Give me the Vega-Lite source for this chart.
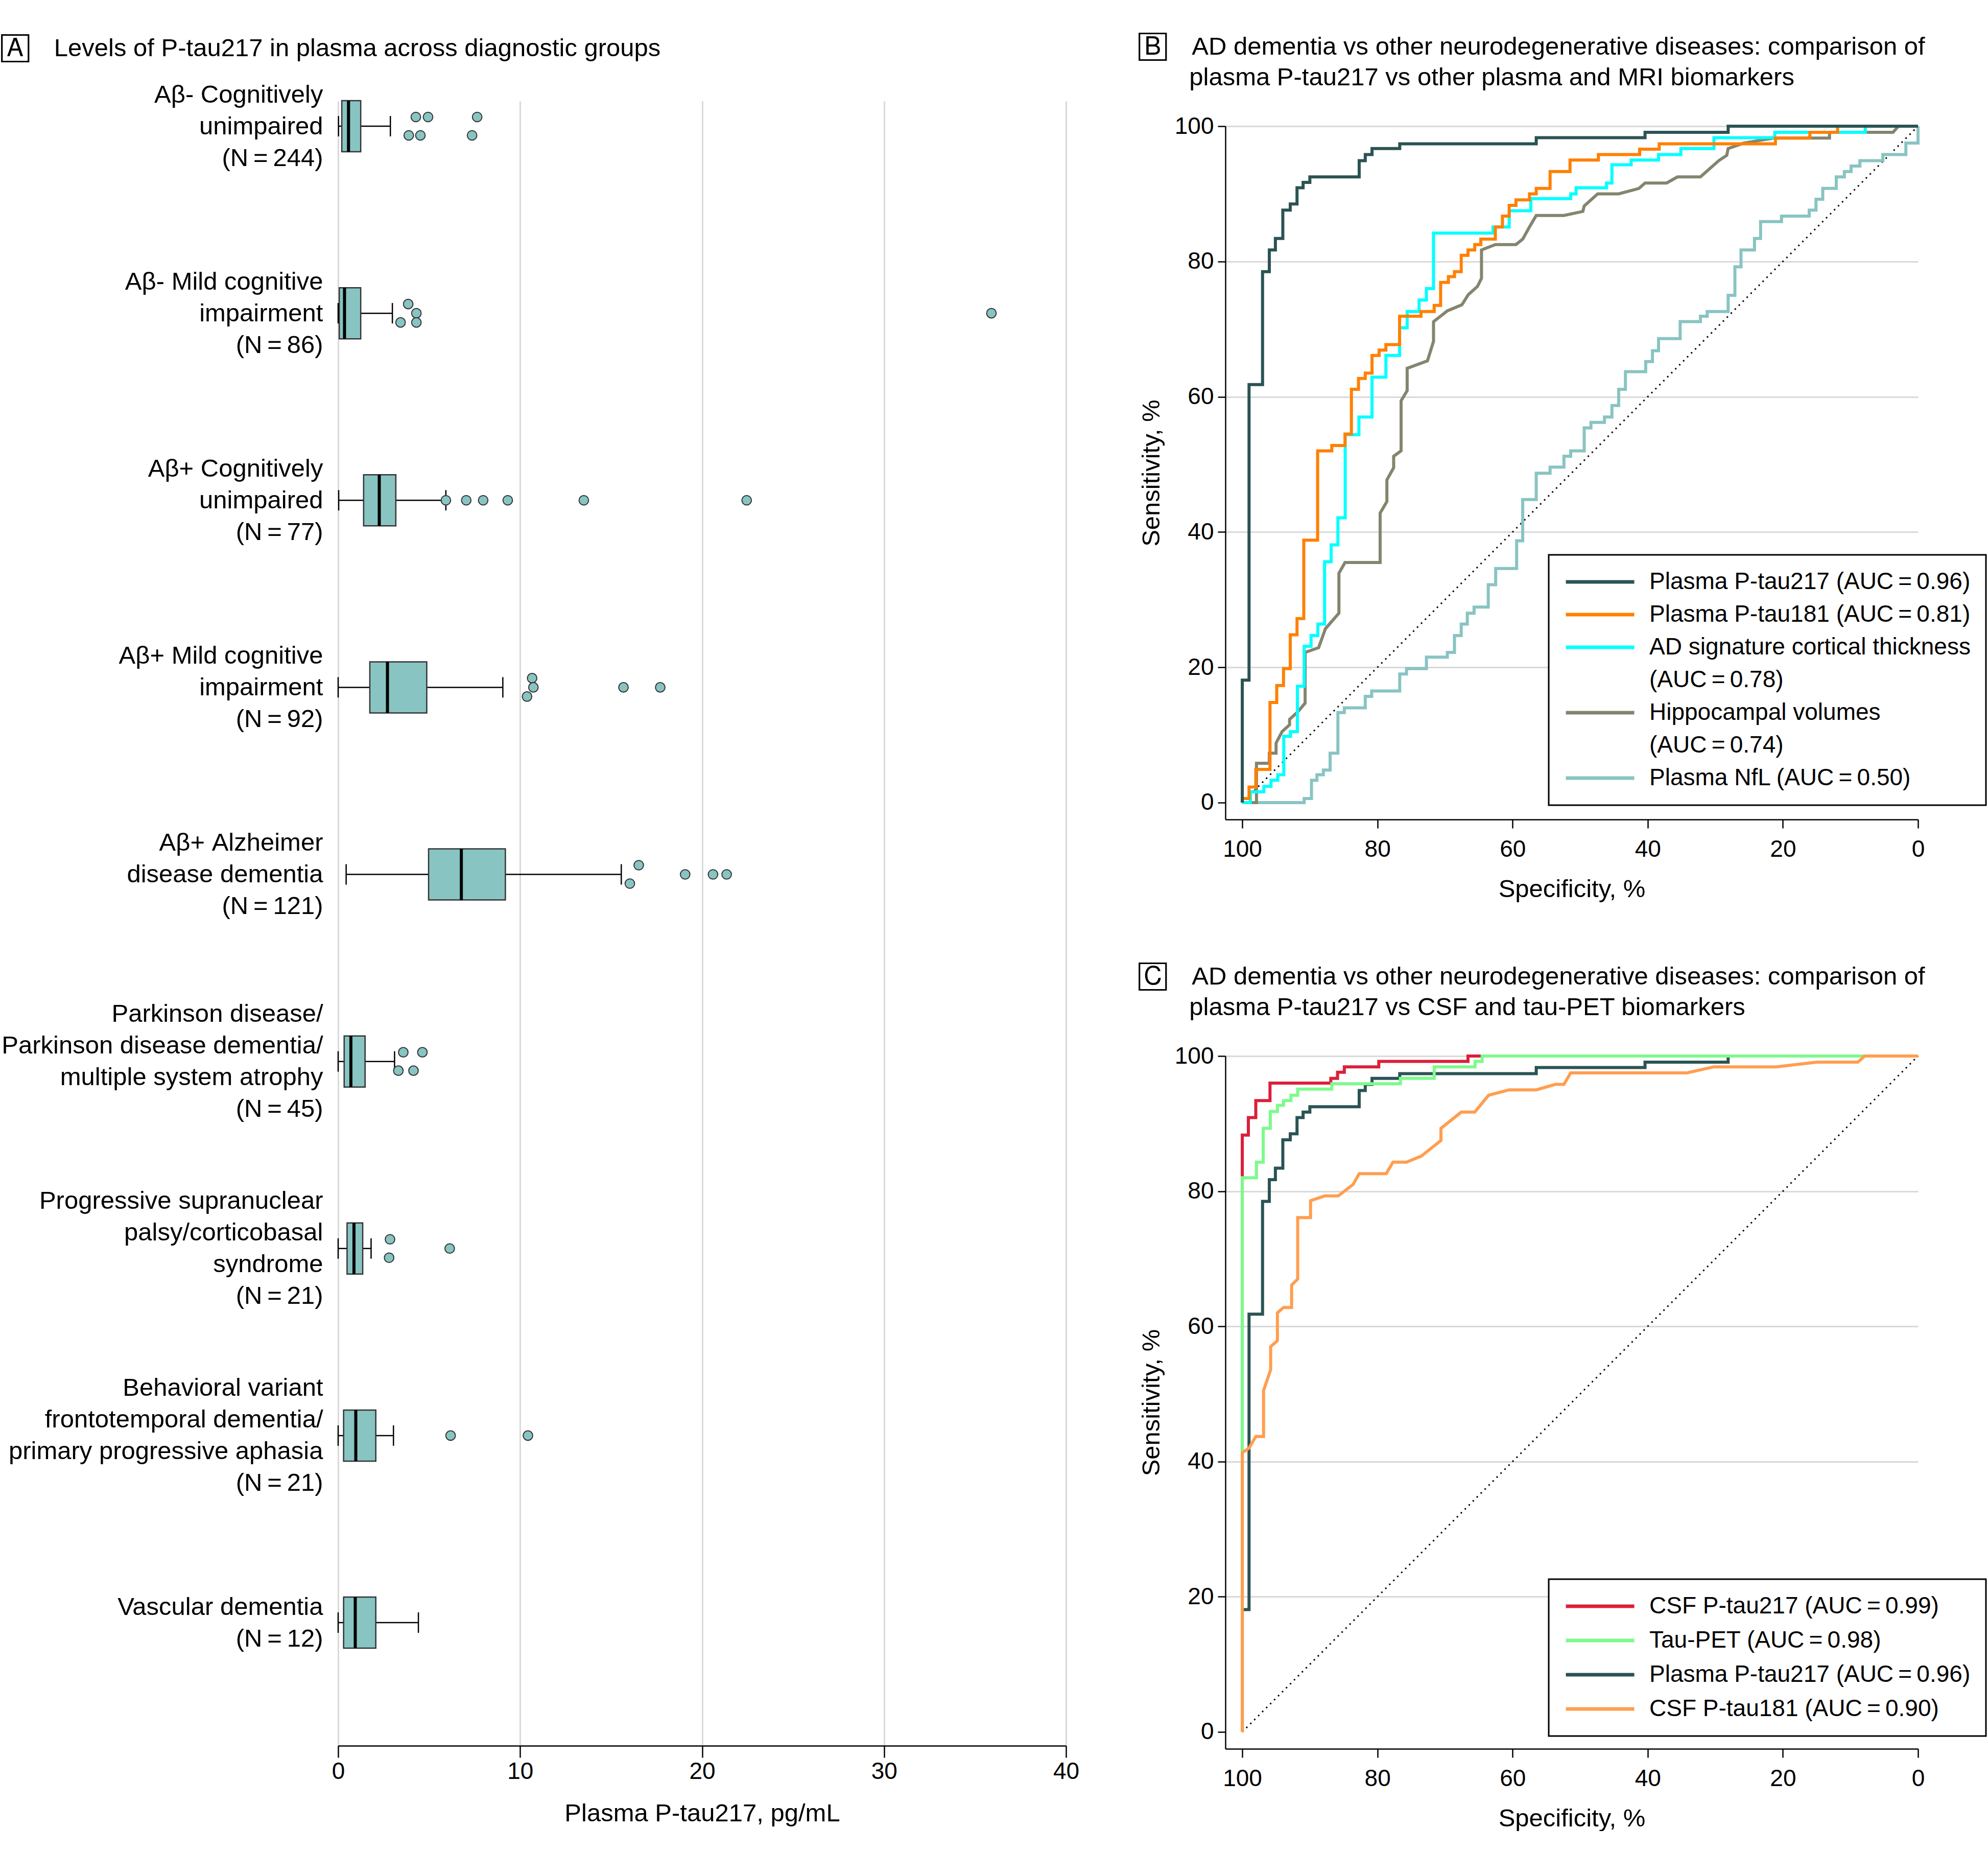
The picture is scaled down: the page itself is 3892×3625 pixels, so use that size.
{
"$schema": "https://vega.github.io/schema/vega-lite/v6.json",
"background": "white",
"padding": {"left": 2, "top": 68, "right": 0, "bottom": 0},
"config": {
 "font": "Liberation Sans",
 "view": {"stroke": null},
 "style": {"guide-label": {"lineHeight": 64}},
 "axis": {"labelFont": "Liberation Sans", "titleFont": "Liberation Sans", "labelFontSize": 46, "titleFontSize": 49, "titleFontWeight": "normal", "labelColor": "black", "titleColor": "black", "domainColor": "black", "tickColor": "black", "domainWidth": 2.5, "tickWidth": 2.5, "gridColor": "#d9d9d9", "gridWidth": 3, "labelFlush": false, "labelOverlap": false},
 "title": {"font": "Liberation Sans", "fontSize": 49, "fontWeight": "normal", "anchor": "start", "frame": "bounds", "color": "black", "lineHeight": 60},
 "legend": {"labelFont": "Liberation Sans", "labelFontSize": 46, "labelColor": "black", "labelLimit": 2000, "symbolType": "M-1.45,0H8.55", "symbolSize": 718, "symbolStrokeWidth": 7, "labelOffset": 121, "padding": 30, "strokeColor": "black", "strokeWidth": 3, "fillColor": "white", "cornerRadius": 0, "rowPadding": 18}
},
"datasets": {
 "box": [
  {"g": "Aβ- Cognitively|unimpaired|(N\u2009=\u2009244)", "lw": 0.02, "q1": 0.2, "md": 0.57, "q3": 1.24, "uw": 2.87},
  {"g": "Aβ- Mild cognitive|impairment|(N\u2009=\u200986)", "lw": 0, "q1": 0.06, "md": 0.35, "q3": 1.24, "uw": 2.98},
  {"g": "Aβ+ Cognitively|unimpaired|(N\u2009=\u200977)", "lw": 0.03, "q1": 1.4, "md": 2.26, "q3": 3.17, "uw": 5.92},
  {"g": "Aβ+ Mild cognitive|impairment|(N\u2009=\u200992)", "lw": 0, "q1": 1.74, "md": 2.71, "q3": 4.87, "uw": 9.05},
  {"g": "Aβ+ Alzheimer|disease dementia|(N\u2009=\u2009121)", "lw": 0.44, "q1": 4.97, "md": 6.77, "q3": 9.19, "uw": 15.56},
  {"g": "Parkinson disease/|Parkinson disease dementia/|multiple system atrophy|(N\u2009=\u200945)", "lw": 0, "q1": 0.33, "md": 0.7, "q3": 1.48, "uw": 3.1},
  {"g": "Progressive supranuclear|palsy/corticobasal|syndrome|(N\u2009=\u200921)", "lw": 0, "q1": 0.49, "md": 0.87, "q3": 1.35, "uw": 1.81},
  {"g": "Behavioral variant|frontotemporal dementia/|primary progressive aphasia|(N\u2009=\u200921)", "lw": 0, "q1": 0.3, "md": 0.97, "q3": 2.07, "uw": 3.04},
  {"g": "Vascular dementia|(N\u2009=\u200912)", "lw": 0, "q1": 0.3, "md": 0.94, "q3": 2.07, "uw": 4.41}
 ],
 "out": [
  {"g": "Aβ- Cognitively|unimpaired|(N\u2009=\u2009244)", "v": 4.27, "l": "t"},
  {"g": "Aβ- Cognitively|unimpaired|(N\u2009=\u2009244)", "v": 4.94, "l": "t"},
  {"g": "Aβ- Cognitively|unimpaired|(N\u2009=\u2009244)", "v": 7.64, "l": "t"},
  {"g": "Aβ- Cognitively|unimpaired|(N\u2009=\u2009244)", "v": 3.88, "l": "b"},
  {"g": "Aβ- Cognitively|unimpaired|(N\u2009=\u2009244)", "v": 4.52, "l": "b"},
  {"g": "Aβ- Cognitively|unimpaired|(N\u2009=\u2009244)", "v": 7.36, "l": "b"},
  {"g": "Aβ- Mild cognitive|impairment|(N\u2009=\u200986)", "v": 3.85, "l": "t"},
  {"g": "Aβ- Mild cognitive|impairment|(N\u2009=\u200986)", "v": 4.3, "l": "m"},
  {"g": "Aβ- Mild cognitive|impairment|(N\u2009=\u200986)", "v": 3.43, "l": "b"},
  {"g": "Aβ- Mild cognitive|impairment|(N\u2009=\u200986)", "v": 4.3, "l": "b"},
  {"g": "Aβ- Mild cognitive|impairment|(N\u2009=\u200986)", "v": 35.9, "l": "m"},
  {"g": "Aβ+ Cognitively|unimpaired|(N\u2009=\u200977)", "v": 5.92, "l": "m"},
  {"g": "Aβ+ Cognitively|unimpaired|(N\u2009=\u200977)", "v": 7.04, "l": "m"},
  {"g": "Aβ+ Cognitively|unimpaired|(N\u2009=\u200977)", "v": 7.97, "l": "m"},
  {"g": "Aβ+ Cognitively|unimpaired|(N\u2009=\u200977)", "v": 9.32, "l": "m"},
  {"g": "Aβ+ Cognitively|unimpaired|(N\u2009=\u200977)", "v": 13.5, "l": "m"},
  {"g": "Aβ+ Cognitively|unimpaired|(N\u2009=\u200977)", "v": 22.45, "l": "m"},
  {"g": "Aβ+ Mild cognitive|impairment|(N\u2009=\u200992)", "v": 10.66, "l": "t"},
  {"g": "Aβ+ Mild cognitive|impairment|(N\u2009=\u200992)", "v": 10.73, "l": "m"},
  {"g": "Aβ+ Mild cognitive|impairment|(N\u2009=\u200992)", "v": 10.38, "l": "b"},
  {"g": "Aβ+ Mild cognitive|impairment|(N\u2009=\u200992)", "v": 15.68, "l": "m"},
  {"g": "Aβ+ Mild cognitive|impairment|(N\u2009=\u200992)", "v": 17.7, "l": "m"},
  {"g": "Aβ+ Alzheimer|disease dementia|(N\u2009=\u2009121)", "v": 16.52, "l": "t"},
  {"g": "Aβ+ Alzheimer|disease dementia|(N\u2009=\u2009121)", "v": 16.03, "l": "b"},
  {"g": "Aβ+ Alzheimer|disease dementia|(N\u2009=\u2009121)", "v": 19.07, "l": "m"},
  {"g": "Aβ+ Alzheimer|disease dementia|(N\u2009=\u2009121)", "v": 20.6, "l": "m"},
  {"g": "Aβ+ Alzheimer|disease dementia|(N\u2009=\u2009121)", "v": 21.35, "l": "m"},
  {"g": "Parkinson disease/|Parkinson disease dementia/|multiple system atrophy|(N\u2009=\u200945)", "v": 3.58, "l": "t"},
  {"g": "Parkinson disease/|Parkinson disease dementia/|multiple system atrophy|(N\u2009=\u200945)", "v": 4.63, "l": "t"},
  {"g": "Parkinson disease/|Parkinson disease dementia/|multiple system atrophy|(N\u2009=\u200945)", "v": 3.31, "l": "b"},
  {"g": "Parkinson disease/|Parkinson disease dementia/|multiple system atrophy|(N\u2009=\u200945)", "v": 4.14, "l": "b"},
  {"g": "Progressive supranuclear|palsy/corticobasal|syndrome|(N\u2009=\u200921)", "v": 2.85, "l": "t"},
  {"g": "Progressive supranuclear|palsy/corticobasal|syndrome|(N\u2009=\u200921)", "v": 2.8, "l": "b"},
  {"g": "Progressive supranuclear|palsy/corticobasal|syndrome|(N\u2009=\u200921)", "v": 6.13, "l": "m"},
  {"g": "Behavioral variant|frontotemporal dementia/|primary progressive aphasia|(N\u2009=\u200921)", "v": 6.18, "l": "m"},
  {"g": "Behavioral variant|frontotemporal dementia/|primary progressive aphasia|(N\u2009=\u200921)", "v": 10.43, "l": "m"}
 ],
 "namesB": [
  {"k": "p217", "name": "Plasma P-tau217 (AUC\u2009=\u20090.96)"},
  {"k": "p181", "name": "Plasma P-tau181 (AUC\u2009=\u20090.81)"},
  {"k": "ct", "name": "AD signature cortical thickness|(AUC\u2009=\u20090.78)"},
  {"k": "hv", "name": "Hippocampal volumes|(AUC\u2009=\u20090.74)"},
  {"k": "nfl", "name": "Plasma NfL (AUC\u2009=\u20090.50)"}
 ],
 "namesC": [
  {"k": "c217", "name": "CSF P-tau217 (AUC\u2009=\u20090.99)"},
  {"k": "tau", "name": "Tau-PET (AUC\u2009=\u20090.98)"},
  {"k": "p217", "name": "Plasma P-tau217 (AUC\u2009=\u20090.96)"},
  {"k": "c181", "name": "CSF P-tau181 (AUC\u2009=\u20090.90)"}
 ],
 "diag": [{"sp": 100, "se": 0}, {"sp": 0, "se": 100}],
 "rocB": [
  {"k":"nfl","sp":100,"se":0},{"k":"nfl","sp":90.84,"se":0},{"k":"nfl","sp":90.84,"se":0.6},{"k":"nfl","sp":89.76,"se":0.6},{"k":"nfl","sp":89.76,"se":3.3},{"k":"nfl","sp":88.95,"se":3.3},{"k":"nfl","sp":88.95,"se":4.1},{"k":"nfl","sp":88.0,"se":4.1},{"k":"nfl","sp":88.0,"se":4.8},{"k":"nfl","sp":87.0,"se":4.8},{"k":"nfl","sp":87.0,"se":7.3},{"k":"nfl","sp":85.85,"se":7.3},{"k":"nfl","sp":85.85,"se":13.3},{"k":"nfl","sp":84.9,"se":13.3},{"k":"nfl","sp":84.9,"se":14.0},{"k":"nfl","sp":81.8,"se":14.0},{"k":"nfl","sp":81.8,"se":15.7},{"k":"nfl","sp":80.85,"se":15.7},{"k":"nfl","sp":80.85,"se":16.5},{"k":"nfl","sp":76.7,"se":16.5},{"k":"nfl","sp":76.7,"se":19.0},{"k":"nfl","sp":75.7,"se":19.0},{"k":"nfl","sp":75.7,"se":19.8},{"k":"nfl","sp":72.75,"se":19.8},{"k":"nfl","sp":72.75,"se":21.5},{"k":"nfl","sp":69.65,"se":21.5},{"k":"nfl","sp":69.65,"se":22.2},{"k":"nfl","sp":68.6,"se":22.2},{"k":"nfl","sp":68.6,"se":24.7},{"k":"nfl","sp":67.6,"se":24.7},{"k":"nfl","sp":67.6,"se":26.4},{"k":"nfl","sp":66.7,"se":26.4},{"k":"nfl","sp":66.7,"se":28.0},{"k":"nfl","sp":65.7,"se":28.0},{"k":"nfl","sp":65.7,"se":28.9},{"k":"nfl","sp":63.6,"se":28.9},{"k":"nfl","sp":63.6,"se":32.2},{"k":"nfl","sp":62.5,"se":32.2},{"k":"nfl","sp":62.5,"se":34.6},{"k":"nfl","sp":59.4,"se":34.6},{"k":"nfl","sp":59.4,"se":38.7},{"k":"nfl","sp":58.5,"se":38.7},{"k":"nfl","sp":58.5,"se":44.8},{"k":"nfl","sp":56.5,"se":44.8},{"k":"nfl","sp":56.5,"se":48.7},{"k":"nfl","sp":54.45,"se":48.7},{"k":"nfl","sp":54.45,"se":49.6},{"k":"nfl","sp":52.4,"se":49.6},{"k":"nfl","sp":52.4,"se":51.2},{"k":"nfl","sp":51.4,"se":51.2},{"k":"nfl","sp":51.4,"se":52.0},{"k":"nfl","sp":49.4,"se":52.0},{"k":"nfl","sp":49.4,"se":55.4},{"k":"nfl","sp":48.4,"se":55.4},{"k":"nfl","sp":48.4,"se":56.2},{"k":"nfl","sp":46.4,"se":56.2},{"k":"nfl","sp":46.4,"se":57.0},{"k":"nfl","sp":45.3,"se":57.0},{"k":"nfl","sp":45.3,"se":58.7},{"k":"nfl","sp":44.3,"se":58.7},{"k":"nfl","sp":44.3,"se":61.1},{"k":"nfl","sp":43.3,"se":61.1},{"k":"nfl","sp":43.3,"se":63.7},{"k":"nfl","sp":40.3,"se":63.7},{"k":"nfl","sp":40.3,"se":65.2},{"k":"nfl","sp":39.3,"se":65.2},{"k":"nfl","sp":39.3,"se":66.8},{"k":"nfl","sp":38.4,"se":66.8},{"k":"nfl","sp":38.4,"se":68.6},{"k":"nfl","sp":35.2,"se":68.6},{"k":"nfl","sp":35.2,"se":71.1},{"k":"nfl","sp":32.2,"se":71.1},{"k":"nfl","sp":32.2,"se":71.9},{"k":"nfl","sp":31.2,"se":71.9},{"k":"nfl","sp":31.2,"se":72.6},{"k":"nfl","sp":28.1,"se":72.6},{"k":"nfl","sp":28.1,"se":75.0},{"k":"nfl","sp":27.1,"se":75.0},{"k":"nfl","sp":27.1,"se":79.2},{"k":"nfl","sp":26.2,"se":79.2},{"k":"nfl","sp":26.2,"se":81.7},{"k":"nfl","sp":24.2,"se":81.7},{"k":"nfl","sp":24.2,"se":83.4},{"k":"nfl","sp":23.3,"se":83.4},{"k":"nfl","sp":23.3,"se":85.9},{"k":"nfl","sp":20.2,"se":85.9},{"k":"nfl","sp":20.2,"se":86.7},{"k":"nfl","sp":16.1,"se":86.7},{"k":"nfl","sp":16.1,"se":87.6},{"k":"nfl","sp":15.1,"se":87.6},{"k":"nfl","sp":15.1,"se":89.2},{"k":"nfl","sp":14.1,"se":89.2},{"k":"nfl","sp":14.1,"se":90.8},{"k":"nfl","sp":12.1,"se":90.8},{"k":"nfl","sp":12.1,"se":92.5},{"k":"nfl","sp":10.9,"se":92.5},{"k":"nfl","sp":10.9,"se":93.3},{"k":"nfl","sp":9.9,"se":93.3},{"k":"nfl","sp":9.9,"se":94.1},{"k":"nfl","sp":8.6,"se":94.1},{"k":"nfl","sp":8.6,"se":94.9},{"k":"nfl","sp":5.2,"se":94.9},{"k":"nfl","sp":5.2,"se":95.8},{"k":"nfl","sp":1.8,"se":95.8},{"k":"nfl","sp":1.8,"se":97.5},{"k":"nfl","sp":0,"se":97.5},{"k":"nfl","sp":0,"se":100},
  {"k":"hv","sp":100,"se":0},{"k":"hv","sp":97.9,"se":0},{"k":"hv","sp":97.9,"se":5.8},{"k":"hv","sp":96.0,"se":5.8},{"k":"hv","sp":96.0,"se":7.3},{"k":"hv","sp":95.0,"se":7.3},{"k":"hv","sp":95.0,"se":8.8},{"k":"hv","sp":94.1,"se":10.5},{"k":"hv","sp":93.0,"se":11.5},{"k":"hv","sp":93.0,"se":12.3},{"k":"hv","sp":91.9,"se":13.3},{"k":"hv","sp":90.7,"se":14.7},{"k":"hv","sp":90.7,"se":22.2},{"k":"hv","sp":88.7,"se":22.9},{"k":"hv","sp":87.7,"se":25.7},{"k":"hv","sp":85.7,"se":28.0},{"k":"hv","sp":85.7,"se":33.9},{"k":"hv","sp":84.8,"se":35.5},{"k":"hv","sp":79.6,"se":35.5},{"k":"hv","sp":79.6,"se":42.8},{"k":"hv","sp":78.6,"se":44.5},{"k":"hv","sp":78.6,"se":47.7},{"k":"hv","sp":77.6,"se":49.5},{"k":"hv","sp":77.6,"se":51.2},{"k":"hv","sp":76.5,"se":52.0},{"k":"hv","sp":76.5,"se":59.4},{"k":"hv","sp":75.6,"se":60.9},{"k":"hv","sp":75.6,"se":64.2},{"k":"hv","sp":72.6,"se":65.3},{"k":"hv","sp":71.7,"se":68.2},{"k":"hv","sp":71.7,"se":71.1},{"k":"hv","sp":69.65,"se":72.7},{"k":"hv","sp":67.5,"se":73.6},{"k":"hv","sp":66.55,"se":75.1},{"k":"hv","sp":65.2,"se":76.3},{"k":"hv","sp":64.6,"se":77.5},{"k":"hv","sp":64.6,"se":81.7},{"k":"hv","sp":62.55,"se":82.5},{"k":"hv","sp":59.5,"se":82.5},{"k":"hv","sp":58.5,"se":83.3},{"k":"hv","sp":57.5,"se":85.1},{"k":"hv","sp":56.5,"se":86.8},{"k":"hv","sp":52.4,"se":86.8},{"k":"hv","sp":49.6,"se":87.4},{"k":"hv","sp":49.4,"se":88.2},{"k":"hv","sp":47.4,"se":90.0},{"k":"hv","sp":44.3,"se":90.0},{"k":"hv","sp":41.3,"se":90.8},{"k":"hv","sp":40.4,"se":91.6},{"k":"hv","sp":37.2,"se":91.6},{"k":"hv","sp":35.6,"se":92.5},{"k":"hv","sp":32.2,"se":92.5},{"k":"hv","sp":29.5,"se":94.9},{"k":"hv","sp":28.3,"se":95.7},{"k":"hv","sp":28.1,"se":96.7},{"k":"hv","sp":25.8,"se":97.5},{"k":"hv","sp":21.4,"se":98.25},{"k":"hv","sp":13.1,"se":98.25},{"k":"hv","sp":13.1,"se":99.1},{"k":"hv","sp":3.7,"se":99.1},{"k":"hv","sp":2.9,"se":100},{"k":"hv","sp":0,"se":100},
  {"k":"ct","sp":100,"se":0},{"k":"ct","sp":98.8,"se":0},{"k":"ct","sp":98.8,"se":1.6},{"k":"ct","sp":96.8,"se":1.6},{"k":"ct","sp":96.8,"se":2.4},{"k":"ct","sp":95.75,"se":2.4},{"k":"ct","sp":95.75,"se":3.3},{"k":"ct","sp":94.75,"se":3.3},{"k":"ct","sp":94.75,"se":4.1},{"k":"ct","sp":93.86,"se":4.1},{"k":"ct","sp":93.86,"se":9.8},{"k":"ct","sp":92.86,"se":9.8},{"k":"ct","sp":92.86,"se":10.5},{"k":"ct","sp":91.84,"se":10.5},{"k":"ct","sp":91.84,"se":17.2},{"k":"ct","sp":90.84,"se":17.2},{"k":"ct","sp":90.84,"se":23.1},{"k":"ct","sp":89.82,"se":23.1},{"k":"ct","sp":89.82,"se":24.7},{"k":"ct","sp":88.82,"se":24.7},{"k":"ct","sp":88.82,"se":26.4},{"k":"ct","sp":87.82,"se":26.4},{"k":"ct","sp":87.82,"se":35.6},{"k":"ct","sp":86.85,"se":35.6},{"k":"ct","sp":86.85,"se":38.1},{"k":"ct","sp":85.85,"se":38.1},{"k":"ct","sp":85.85,"se":42.1},{"k":"ct","sp":84.77,"se":42.1},{"k":"ct","sp":84.77,"se":54.4},{"k":"ct","sp":82.74,"se":54.4},{"k":"ct","sp":82.74,"se":57.0},{"k":"ct","sp":80.8,"se":57.0},{"k":"ct","sp":80.8,"se":62.9},{"k":"ct","sp":78.75,"se":62.9},{"k":"ct","sp":78.75,"se":66.1},{"k":"ct","sp":76.73,"se":66.1},{"k":"ct","sp":76.73,"se":70.2},{"k":"ct","sp":75.6,"se":70.2},{"k":"ct","sp":75.6,"se":72.6},{"k":"ct","sp":73.83,"se":72.6},{"k":"ct","sp":73.83,"se":74.3},{"k":"ct","sp":72.75,"se":74.3},{"k":"ct","sp":72.75,"se":76.0},{"k":"ct","sp":71.7,"se":76.0},{"k":"ct","sp":71.7,"se":84.2},{"k":"ct","sp":62.9,"se":84.2},{"k":"ct","sp":62.9,"se":85.1},{"k":"ct","sp":60.5,"se":85.1},{"k":"ct","sp":60.5,"se":87.5},{"k":"ct","sp":57.3,"se":87.5},{"k":"ct","sp":57.3,"se":89.3},{"k":"ct","sp":51.4,"se":89.3},{"k":"ct","sp":51.4,"se":90.0},{"k":"ct","sp":50.6,"se":90.0},{"k":"ct","sp":50.6,"se":90.9},{"k":"ct","sp":46.1,"se":90.9},{"k":"ct","sp":46.1,"se":91.6},{"k":"ct","sp":45.3,"se":91.6},{"k":"ct","sp":45.3,"se":94.3},{"k":"ct","sp":42.45,"se":94.3},{"k":"ct","sp":42.45,"se":95.0},{"k":"ct","sp":38.4,"se":95.0},{"k":"ct","sp":38.4,"se":95.8},{"k":"ct","sp":35.1,"se":95.8},{"k":"ct","sp":35.1,"se":96.7},{"k":"ct","sp":30.2,"se":96.7},{"k":"ct","sp":30.2,"se":98.3},{"k":"ct","sp":21.2,"se":98.3},{"k":"ct","sp":21.2,"se":99.1},{"k":"ct","sp":7.8,"se":99.1},{"k":"ct","sp":7.8,"se":100},{"k":"ct","sp":0,"se":100},
  {"k":"p181","sp":100,"se":0},{"k":"p181","sp":100,"se":0.6},{"k":"p181","sp":99.0,"se":0.6},{"k":"p181","sp":99.0,"se":2.3},{"k":"p181","sp":98.0,"se":2.3},{"k":"p181","sp":98.0,"se":4.9},{"k":"p181","sp":95.9,"se":4.9},{"k":"p181","sp":95.9,"se":14.8},{"k":"p181","sp":94.9,"se":14.8},{"k":"p181","sp":94.9,"se":17.3},{"k":"p181","sp":93.9,"se":17.3},{"k":"p181","sp":93.9,"se":19.8},{"k":"p181","sp":92.9,"se":19.8},{"k":"p181","sp":92.9,"se":24.8},{"k":"p181","sp":91.9,"se":24.8},{"k":"p181","sp":91.9,"se":27.2},{"k":"p181","sp":90.9,"se":27.2},{"k":"p181","sp":90.9,"se":38.8},{"k":"p181","sp":88.85,"se":38.8},{"k":"p181","sp":88.85,"se":52.0},{"k":"p181","sp":86.75,"se":52.0},{"k":"p181","sp":86.75,"se":52.8},{"k":"p181","sp":84.8,"se":52.8},{"k":"p181","sp":84.8,"se":54.5},{"k":"p181","sp":83.85,"se":54.5},{"k":"p181","sp":83.85,"se":61.1},{"k":"p181","sp":82.8,"se":61.1},{"k":"p181","sp":82.8,"se":62.7},{"k":"p181","sp":81.8,"se":62.7},{"k":"p181","sp":81.8,"se":63.5},{"k":"p181","sp":80.8,"se":63.5},{"k":"p181","sp":80.8,"se":66.1},{"k":"p181","sp":79.75,"se":66.1},{"k":"p181","sp":79.75,"se":66.9},{"k":"p181","sp":78.75,"se":66.9},{"k":"p181","sp":78.75,"se":67.7},{"k":"p181","sp":76.72,"se":67.7},{"k":"p181","sp":76.72,"se":71.9},{"k":"p181","sp":73.55,"se":71.9},{"k":"p181","sp":73.55,"se":72.6},{"k":"p181","sp":71.6,"se":72.6},{"k":"p181","sp":71.6,"se":73.5},{"k":"p181","sp":70.65,"se":73.5},{"k":"p181","sp":70.65,"se":76.9},{"k":"p181","sp":69.5,"se":76.9},{"k":"p181","sp":69.5,"se":77.75},{"k":"p181","sp":68.6,"se":77.75},{"k":"p181","sp":68.6,"se":78.5},{"k":"p181","sp":67.6,"se":78.5},{"k":"p181","sp":67.6,"se":80.9},{"k":"p181","sp":66.6,"se":80.9},{"k":"p181","sp":66.6,"se":81.7},{"k":"p181","sp":65.6,"se":81.7},{"k":"p181","sp":65.6,"se":82.5},{"k":"p181","sp":64.7,"se":82.5},{"k":"p181","sp":64.7,"se":83.3},{"k":"p181","sp":62.55,"se":83.3},{"k":"p181","sp":62.55,"se":85.1},{"k":"p181","sp":61.5,"se":85.1},{"k":"p181","sp":61.5,"se":86.7},{"k":"p181","sp":60.5,"se":86.7},{"k":"p181","sp":60.5,"se":88.3},{"k":"p181","sp":59.5,"se":88.3},{"k":"p181","sp":59.5,"se":89.1},{"k":"p181","sp":57.5,"se":89.1},{"k":"p181","sp":57.5,"se":90.0},{"k":"p181","sp":56.5,"se":90.0},{"k":"p181","sp":56.5,"se":90.8},{"k":"p181","sp":54.45,"se":90.8},{"k":"p181","sp":54.45,"se":93.3},{"k":"p181","sp":51.5,"se":93.3},{"k":"p181","sp":51.5,"se":95.0},{"k":"p181","sp":47.3,"se":95.0},{"k":"p181","sp":47.3,"se":95.8},{"k":"p181","sp":41.2,"se":95.8},{"k":"p181","sp":41.2,"se":96.6},{"k":"p181","sp":38.3,"se":96.6},{"k":"p181","sp":38.3,"se":97.4},{"k":"p181","sp":21.1,"se":97.4},{"k":"p181","sp":21.1,"se":98.25},{"k":"p181","sp":16.0,"se":98.25},{"k":"p181","sp":16.0,"se":99.1},{"k":"p181","sp":11.9,"se":99.1},{"k":"p181","sp":11.9,"se":100},{"k":"p181","sp":0,"se":100},
  {"k":"p217","sp":100,"se":0},{"k":"p217","sp":100,"se":18.1},{"k":"p217","sp":99.0,"se":18.1},{"k":"p217","sp":99.0,"se":61.8},{"k":"p217","sp":97.0,"se":61.8},{"k":"p217","sp":97.0,"se":78.5},{"k":"p217","sp":96.0,"se":78.5},{"k":"p217","sp":96.0,"se":81.7},{"k":"p217","sp":95.1,"se":81.7},{"k":"p217","sp":95.1,"se":83.4},{"k":"p217","sp":94.0,"se":83.4},{"k":"p217","sp":94.0,"se":87.6},{"k":"p217","sp":92.9,"se":87.6},{"k":"p217","sp":92.9,"se":88.5},{"k":"p217","sp":91.9,"se":88.5},{"k":"p217","sp":91.9,"se":90.9},{"k":"p217","sp":91.0,"se":90.9},{"k":"p217","sp":91.0,"se":91.7},{"k":"p217","sp":90.0,"se":91.7},{"k":"p217","sp":90.0,"se":92.5},{"k":"p217","sp":82.7,"se":92.5},{"k":"p217","sp":82.7,"se":94.9},{"k":"p217","sp":81.8,"se":94.9},{"k":"p217","sp":81.8,"se":95.8},{"k":"p217","sp":80.8,"se":95.8},{"k":"p217","sp":80.8,"se":96.7},{"k":"p217","sp":76.7,"se":96.7},{"k":"p217","sp":76.7,"se":97.4},{"k":"p217","sp":56.5,"se":97.4},{"k":"p217","sp":56.5,"se":98.3},{"k":"p217","sp":40.4,"se":98.3},{"k":"p217","sp":40.4,"se":99.1},{"k":"p217","sp":28.1,"se":99.1},{"k":"p217","sp":28.1,"se":100},{"k":"p217","sp":0,"se":100}
 ],
 "rocC": [
  {"k":"c217","sp":100,"se":0},{"k":"c217","sp":100,"se":88.3},{"k":"c217","sp":99.1,"se":88.3},{"k":"c217","sp":99.1,"se":90.9},{"k":"c217","sp":98.0,"se":90.9},{"k":"c217","sp":98.0,"se":93.4},{"k":"c217","sp":95.9,"se":93.4},{"k":"c217","sp":95.9,"se":96.0},{"k":"c217","sp":86.9,"se":96.0},{"k":"c217","sp":86.9,"se":96.7},{"k":"c217","sp":85.9,"se":96.7},{"k":"c217","sp":85.9,"se":97.6},{"k":"c217","sp":84.9,"se":97.6},{"k":"c217","sp":84.9,"se":98.4},{"k":"c217","sp":79.8,"se":98.4},{"k":"c217","sp":79.8,"se":99.2},{"k":"c217","sp":66.6,"se":99.2},{"k":"c217","sp":66.6,"se":100},{"k":"c217","sp":0,"se":100},
  {"k":"p217","sp":100,"se":0},{"k":"p217","sp":100,"se":18.1},{"k":"p217","sp":99.0,"se":18.1},{"k":"p217","sp":99.0,"se":61.8},{"k":"p217","sp":97.0,"se":61.8},{"k":"p217","sp":97.0,"se":78.5},{"k":"p217","sp":96.0,"se":78.5},{"k":"p217","sp":96.0,"se":81.7},{"k":"p217","sp":95.1,"se":81.7},{"k":"p217","sp":95.1,"se":83.4},{"k":"p217","sp":94.0,"se":83.4},{"k":"p217","sp":94.0,"se":87.6},{"k":"p217","sp":92.9,"se":87.6},{"k":"p217","sp":92.9,"se":88.5},{"k":"p217","sp":91.9,"se":88.5},{"k":"p217","sp":91.9,"se":90.9},{"k":"p217","sp":91.0,"se":90.9},{"k":"p217","sp":91.0,"se":91.7},{"k":"p217","sp":90.0,"se":91.7},{"k":"p217","sp":90.0,"se":92.5},{"k":"p217","sp":82.7,"se":92.5},{"k":"p217","sp":82.7,"se":94.9},{"k":"p217","sp":81.8,"se":94.9},{"k":"p217","sp":81.8,"se":95.8},{"k":"p217","sp":80.8,"se":95.8},{"k":"p217","sp":80.8,"se":96.7},{"k":"p217","sp":76.7,"se":96.7},{"k":"p217","sp":76.7,"se":97.4},{"k":"p217","sp":56.5,"se":97.4},{"k":"p217","sp":56.5,"se":98.3},{"k":"p217","sp":40.4,"se":98.3},{"k":"p217","sp":40.4,"se":99.1},{"k":"p217","sp":28.1,"se":99.1},{"k":"p217","sp":28.1,"se":100},{"k":"p217","sp":0,"se":100},
  {"k":"tau","sp":100,"se":0},{"k":"tau","sp":100,"se":82.0},{"k":"tau","sp":97.9,"se":82.0},{"k":"tau","sp":97.9,"se":84.3},{"k":"tau","sp":96.9,"se":84.3},{"k":"tau","sp":96.9,"se":89.3},{"k":"tau","sp":95.85,"se":89.3},{"k":"tau","sp":95.85,"se":91.8},{"k":"tau","sp":94.8,"se":91.8},{"k":"tau","sp":94.8,"se":92.7},{"k":"tau","sp":93.9,"se":92.7},{"k":"tau","sp":93.9,"se":93.4},{"k":"tau","sp":92.8,"se":93.4},{"k":"tau","sp":92.8,"se":94.2},{"k":"tau","sp":91.8,"se":94.2},{"k":"tau","sp":91.8,"se":95.1},{"k":"tau","sp":86.75,"se":95.1},{"k":"tau","sp":86.75,"se":95.9},{"k":"tau","sp":76.6,"se":95.9},{"k":"tau","sp":76.6,"se":96.7},{"k":"tau","sp":71.6,"se":96.7},{"k":"tau","sp":71.6,"se":98.4},{"k":"tau","sp":65.55,"se":98.4},{"k":"tau","sp":65.55,"se":99.2},{"k":"tau","sp":64.5,"se":99.2},{"k":"tau","sp":64.5,"se":100},{"k":"tau","sp":0,"se":100},
  {"k":"c181","sp":100,"se":0},{"k":"c181","sp":100,"se":41.3},{"k":"c181","sp":99.0,"se":42.0},{"k":"c181","sp":98.0,"se":43.7},{"k":"c181","sp":96.85,"se":43.7},{"k":"c181","sp":96.85,"se":50.5},{"k":"c181","sp":95.8,"se":53.6},{"k":"c181","sp":95.8,"se":57.0},{"k":"c181","sp":94.8,"se":57.9},{"k":"c181","sp":94.8,"se":62.0},{"k":"c181","sp":93.9,"se":62.8},{"k":"c181","sp":92.7,"se":62.8},{"k":"c181","sp":92.7,"se":66.1},{"k":"c181","sp":91.8,"se":67.0},{"k":"c181","sp":91.8,"se":76.1},{"k":"c181","sp":89.9,"se":76.1},{"k":"c181","sp":89.9,"se":78.6},{"k":"c181","sp":87.8,"se":79.3},{"k":"c181","sp":85.8,"se":79.3},{"k":"c181","sp":83.6,"se":81.0},{"k":"c181","sp":82.7,"se":82.6},{"k":"c181","sp":78.7,"se":82.6},{"k":"c181","sp":77.7,"se":84.3},{"k":"c181","sp":75.7,"se":84.3},{"k":"c181","sp":73.5,"se":85.2},{"k":"c181","sp":70.6,"se":87.5},{"k":"c181","sp":70.6,"se":89.3},{"k":"c181","sp":67.6,"se":91.7},{"k":"c181","sp":65.6,"se":91.7},{"k":"c181","sp":63.55,"se":94.2},{"k":"c181","sp":60.5,"se":95.0},{"k":"c181","sp":56.5,"se":95.0},{"k":"c181","sp":53.7,"se":95.8},{"k":"c181","sp":52.4,"se":95.8},{"k":"c181","sp":51.4,"se":97.5},{"k":"c181","sp":34.2,"se":97.5},{"k":"c181","sp":30.2,"se":98.4},{"k":"c181","sp":21.0,"se":98.4},{"k":"c181","sp":15.0,"se":99.1},{"k":"c181","sp":8.9,"se":99.1},{"k":"c181","sp":7.9,"se":100},{"k":"c181","sp":0,"se":100}
 ]
},
"spacing": 117,
"resolve": {"scale": {"color": "independent"}, "legend": {"color": "independent"}},
"hconcat": [
 {
  "width": 1425, "height": 3170,
  "title": {"text": "\ud83c\udd30\u2003Levels of P-tau217 in plasma across diagnostic groups", "offset": 41},
  "encoding": {
   "y": {"field": "g", "type": "nominal", "sort": null,
    "scale": {"type": "point", "padding": 0.396, "align": 0, "range": [0, 3219], "domain": ["Aβ- Cognitively|unimpaired|(N\u2009=\u2009244)", "Aβ- Mild cognitive|impairment|(N\u2009=\u200986)", "Aβ+ Cognitively|unimpaired|(N\u2009=\u200977)", "Aβ+ Mild cognitive|impairment|(N\u2009=\u200992)", "Aβ+ Alzheimer|disease dementia|(N\u2009=\u2009121)", "Parkinson disease/|Parkinson disease dementia/|multiple system atrophy|(N\u2009=\u200945)", "Progressive supranuclear|palsy/corticobasal|syndrome|(N\u2009=\u200921)", "Behavioral variant|frontotemporal dementia/|primary progressive aphasia|(N\u2009=\u200921)", "Vascular dementia|(N\u2009=\u200912)"]},
    "axis": {"title": null, "domain": false, "ticks": false, "tickSize": 0, "grid": false, "labelPadding": 30, "labelFontSize": 49, "labelLineHeight": 62, "labelLimit": 2000, "labelExpr": "split(datum.label, '|')",
     "labelOffset": {"condition": [{"test": "length(split(datum.label, '|')) == 4", "value": -93}, {"test": "length(split(datum.label, '|')) == 2", "value": -31}], "value": -62}}}
  },
  "layer": [
   {"data": {"name": "box"}, "mark": {"type": "rule", "color": "black", "strokeWidth": 2.5},
    "encoding": {"x": {"field": "lw", "type": "quantitative", "title": "Plasma P-tau217, pg/mL", "scale": {"domain": [0, 40], "nice": false}, "axis": {"values": [0, 10, 20, 30, 40], "grid": true, "tickSize": 23, "labelPadding": 5, "titlePadding": 35}}, "x2": {"field": "uw"}}},
   {"data": {"name": "box"}, "mark": {"type": "bar", "size": 100, "fill": "#88c4c2", "stroke": "#333333", "strokeWidth": 2.5, "opacity": 1},
    "encoding": {"x": {"field": "q1", "type": "quantitative", "title": "Plasma P-tau217, pg/mL"}, "x2": {"field": "q3"}}},
   {"data": {"name": "box"}, "mark": {"type": "tick", "size": 100, "thickness": 6, "color": "black", "opacity": 1},
    "encoding": {"x": {"field": "md", "type": "quantitative", "title": "Plasma P-tau217, pg/mL"}}},
   {"data": {"name": "box"}, "mark": {"type": "tick", "size": 40, "thickness": 2.5, "color": "black", "opacity": 1},
    "encoding": {"x": {"field": "lw", "type": "quantitative", "title": "Plasma P-tau217, pg/mL"}}},
   {"data": {"name": "box"}, "mark": {"type": "tick", "size": 40, "thickness": 2.5, "color": "black", "opacity": 1},
    "encoding": {"x": {"field": "uw", "type": "quantitative", "title": "Plasma P-tau217, pg/mL"}}},
   {"data": {"name": "out"}, "mark": {"type": "circle", "size": 350, "fill": "#88c4c2", "stroke": "#333333", "strokeWidth": 2, "opacity": 1},
    "encoding": {"x": {"field": "v", "type": "quantitative", "title": "Plasma P-tau217, pg/mL"}, "yOffset": {"field": "l", "type": "nominal", "scale": {"type": "point", "domain": ["t", "m", "b"], "range": [-18, 18], "padding": 0}}}}
  ]
 },
 {
  "spacing": 123,
  "resolve": {"scale": {"color": "independent"}, "legend": {"color": "independent"}},
  "vconcat": [
   {
    "width": 1356, "height": 1357,
    "title": {"text": ["\ud83c\udd31\u2003AD dementia vs other neurodegenerative diseases: comparison of", "\u200b\u2003\u2003plasma P-tau217 vs other plasma and MRI biomarkers"], "offset": 47},
    "encoding": {
     "x": {"field": "sp", "type": "quantitative", "scale": {"domain": [102.5, 0], "nice": false, "zero": false}, "axis": {"values": [100, 80, 60, 40, 20, 0], "title": "Specificity, %", "grid": false, "tickSize": 17, "labelPadding": 19, "titlePadding": 31}},
     "y": {"field": "se", "type": "quantitative", "scale": {"domain": [-2.5, 100], "nice": false, "zero": false}, "axis": {"values": [0, 20, 40, 60, 80, 100], "title": "Sensitivity, %", "grid": true, "gridOpacity": {"condition": {"test": "datum.value === 0", "value": 0}, "value": 1}, "tickSize": 15, "labelPadding": 8, "titlePadding": 20}}
    },
    "layer": [
     {"data": {"name": "diag"}, "mark": {"type": "line", "color": "black", "strokeWidth": 3, "strokeDash": [3, 8]}, "encoding": {}},
     {"data": {"name": "rocB"},
      "transform": [{"lookup": "k", "from": {"data": {"name": "namesB"}, "key": "k", "fields": ["name"]}}, {"window": [{"op": "row_number", "as": "i"}]}],
      "mark": {"type": "line", "strokeWidth": 6},
      "encoding": {
       "color": {"field": "name", "type": "nominal", "scale": {"domain": ["Plasma P-tau217 (AUC\u2009=\u20090.96)", "Plasma P-tau181 (AUC\u2009=\u20090.81)", "AD signature cortical thickness|(AUC\u2009=\u20090.78)", "Hippocampal volumes|(AUC\u2009=\u20090.74)", "Plasma NfL (AUC\u2009=\u20090.50)"], "range": ["#2b5353", "#ff8000", "#00ffff", "#85856f", "#88c4c2"]},
        "legend": {"title": null, "orient": "none", "legendX": 633, "legendY": 839, "labelExpr": "split(datum.label, '|')", "rowPadding": 18}},
       "order": {"field": "i", "type": "quantitative"}
      }}
    ]
   },
   {
    "width": 1356, "height": 1356,
    "title": {"text": ["\ud83c\udd32\u2003AD dementia vs other neurodegenerative diseases: comparison of", "\u200b\u2003\u2003plasma P-tau217 vs CSF and tau-PET biomarkers"], "offset": 47},
    "encoding": {
     "x": {"field": "sp", "type": "quantitative", "scale": {"domain": [102.5, 0], "nice": false, "zero": false}, "axis": {"values": [100, 80, 60, 40, 20, 0], "title": "Specificity, %", "grid": false, "tickSize": 17, "labelPadding": 19, "titlePadding": 31}},
     "y": {"field": "se", "type": "quantitative", "scale": {"domain": [-2.5, 100], "nice": false, "zero": false}, "axis": {"values": [0, 20, 40, 60, 80, 100], "title": "Sensitivity, %", "grid": true, "gridOpacity": {"condition": {"test": "datum.value === 0", "value": 0}, "value": 1}, "tickSize": 15, "labelPadding": 8, "titlePadding": 20}}
    },
    "layer": [
     {"data": {"name": "diag"}, "mark": {"type": "line", "color": "black", "strokeWidth": 3, "strokeDash": [3, 8]}, "encoding": {}},
     {"data": {"name": "rocC"},
      "transform": [{"lookup": "k", "from": {"data": {"name": "namesC"}, "key": "k", "fields": ["name"]}}, {"window": [{"op": "row_number", "as": "i"}]}],
      "mark": {"type": "line", "strokeWidth": 6},
      "encoding": {
       "color": {"field": "name", "type": "nominal", "scale": {"domain": ["CSF P-tau217 (AUC\u2009=\u20090.99)", "Tau-PET (AUC\u2009=\u20090.98)", "Plasma P-tau217 (AUC\u2009=\u20090.96)", "CSF P-tau181 (AUC\u2009=\u20090.90)"], "range": ["#dc1f3a", "#7dfa8c", "#2b5353", "#ff9e4f"]},
        "legend": {"title": null, "orient": "none", "legendX": 633, "legendY": 1024, "labelExpr": "split(datum.label, '|')", "rowPadding": 21}},
       "order": {"field": "i", "type": "quantitative"}
      }}
    ]
   }
  ]
 }
]
}
